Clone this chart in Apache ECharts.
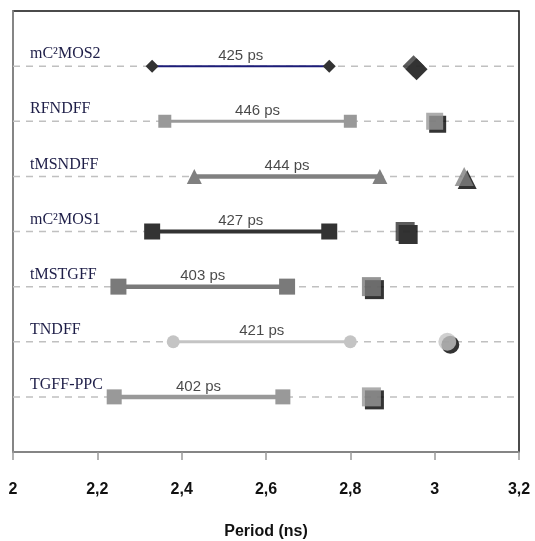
<!DOCTYPE html>
<html><head><meta charset="utf-8">
<script src="https://cdn.jsdelivr.net/npm/echarts@6/dist/echarts.min.js"></script>
<style>html,body{margin:0;padding:0;background:#fff}#c{width:535px;height:541px}</style>
</head><body><div id="c"></div>
<script>
var categories = ['mC²MOS2','RFNDFF','tMSNDFF','mC²MOS1','tMSTGFF','TNDFF','TGFF-PPC'];
var startValues = [2.33, 2.36, 2.43, 2.33, 2.25, 2.38, 2.24];
var endValues   = [2.75, 2.80, 2.87, 2.75, 2.65, 2.80, 2.64];
var periodValues = [2.95, 3.00, 3.07, 2.93, 2.85, 3.03, 2.85];
var delayLabels = ['425 ps','446 ps','444 ps','427 ps','403 ps','421 ps','402 ps'];
var xTicks = ['2','2,2','2,4','2,6','2,8','3','3,2'];
var symbols = ['diamond','rect','triangle','rect','rect','circle','rect'];
var colors = ['#333333','#999999','#808080','#333333','#7a7a7a','#c4c4c4','#999999'];
var lineColors = ['#1c1c78','#999999','#808080','#333333','#7a7a7a','#c4c4c4','#999999'];
var lineWidths = [2, 3, 4.5, 4, 4.5, 3, 4.5];
var smallSizes = [13, 13, 15, 16, 16, 13, 15];
var bigSizes = [22, 17, 19, 19, 19, 18, 19];

var series = [];
categories.forEach(function(c, i){
  var row = i + 1;
  series.push({type:'line', data:[[2,row],[3.2,row]], symbol:'none', silent:true, z:1,
    lineStyle:{color:'#c0c0c0', width:1.5, type:[7,6]}});
  series.push({type:'line', data:[[startValues[i],row],[endValues[i],row]], symbol:symbols[i],
    symbolSize:smallSizes[i], showSymbol:true, z:3,
    itemStyle:{color:colors[i]}, lineStyle:{color:lineColors[i], width:lineWidths[i]}});
  series.push({type:'scatter', data:[[(startValues[i]+endValues[i])/2,row]], symbolSize:0, z:4,
    label:{show:true, position:'top', distance:3, formatter:delayLabels[i],
      fontFamily:'Liberation Sans', fontSize:15, color:'#1a1a1a'}});
  series.push({type:'scatter', data:[[periodValues[i],row]], symbol:symbols[i], symbolSize:bigSizes[i], z:3,
    itemStyle:{color:colors[i], shadowColor:'#000', shadowBlur:0, shadowOffsetX:3, shadowOffsetY:3}});
});

var chart = echarts.init(document.getElementById('c'));
chart.setOption({
  animation:false,
  grid:{left:13, right:16, top:11, bottom:89, show:true, borderColor:'#111', borderWidth:1.5,
    containLabel:false, outerBoundsMode:'none'},
  xAxis:{type:'value', min:2, max:3.2, interval:0.2, position:'bottom',
    axisLine:{show:true, onZero:false, lineStyle:{color:'#999', width:1.5}},
    axisTick:{show:true, length:8, lineStyle:{color:'#999', width:1.5}},
    splitLine:{show:false},
    axisLabel:{margin:30, fontFamily:'Liberation Sans', fontWeight:'bold', fontSize:16, color:'#111',
      formatter:function(v){ return xTicks[Math.round((v-2)/0.2)]; }},
    name:'Period (ns)', nameLocation:'middle', nameGap:72,
    nameTextStyle:{fontFamily:'Liberation Sans', fontWeight:'bold', fontSize:16, color:'#111'}},
  yAxis:{type:'value', min:0, max:8, interval:1, inverse:true,
    axisLine:{show:true, onZero:false, lineStyle:{color:'#999', width:1.5}},
    axisTick:{show:false}, splitLine:{show:false},
    axisLabel:{inside:true, margin:17, verticalAlign:'bottom', padding:[0,0,4,0],
      fontFamily:'Liberation Serif', fontSize:16, color:'#1e1e48',
      formatter:function(v){ return (v>=1 && v<=categories.length) ? categories[v-1] : ''; }}},
  series:series
});
</script></body></html>
